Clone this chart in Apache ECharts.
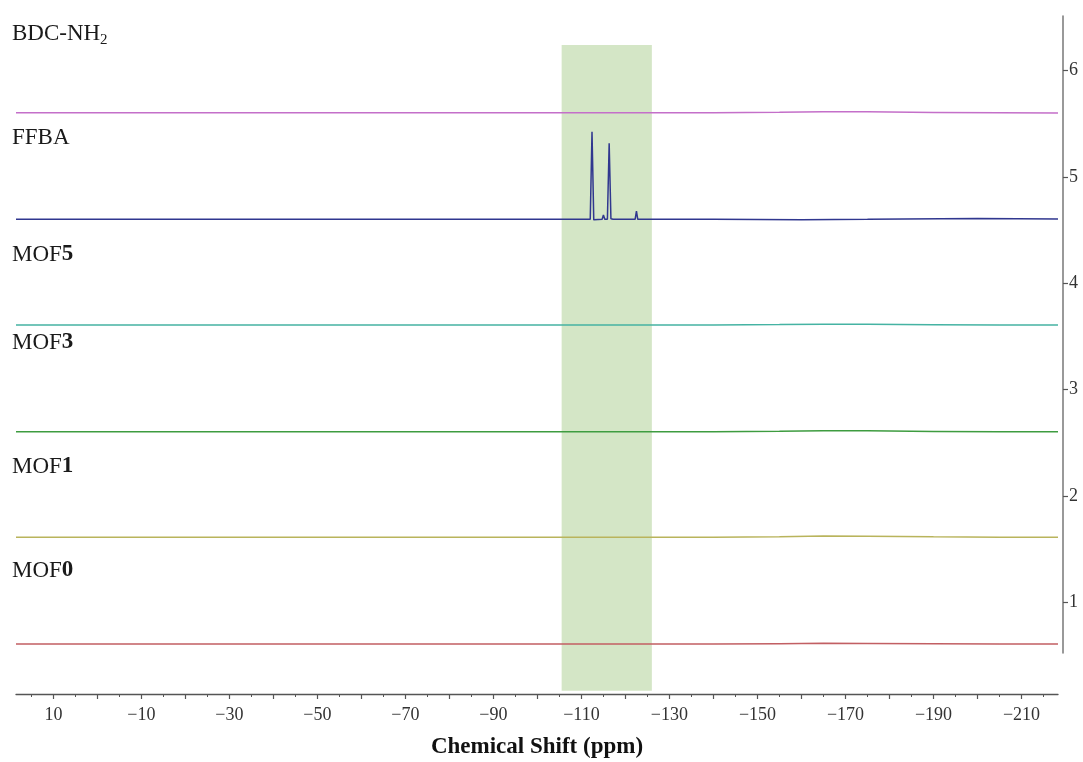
<!DOCTYPE html>
<html>
<head>
<meta charset="utf-8">
<script src="https://cdn.jsdelivr.net/npm/echarts@6/dist/echarts.min.js"></script>
<style>
  html, body { margin: 0; padding: 0; background: #fff; }
  #main { width: 1083px; height: 762px; }
</style>
</head>
<body>
<div id="main"></div>
<script>
// 基于准备好的dom，初始化echarts实例
var myChart = echarts.init(document.getElementById('main'));

// 化学位移 (ppm) —— 平坦基线共用的采样点
var baseShift = [18.5, 0, -50, -100, -140, -155, -165, -175, -190, -205, -218.3];

// 各谱线的堆叠偏移
var names = ['MOF0', 'MOF1', 'MOF3', 'MOF5', 'FFBA', 'BDC-NH2'];
var offsets = [0.612, 1.615, 2.607, 3.61, 4.603, 5.605];
var colors = ['#c25f63', '#b9b45c', '#3e9c40', '#45b3a3', '#30378f', '#c46fc9'];

// 相对强度
var mof0 = [0, 0, 0, 0, 0, 0.003, 0.006, 0.005, 0.003, 0.001, 0];
var mof1 = [0, 0, 0, 0, 0, 0.005, 0.012, 0.01, 0.004, 0.001, 0];
var mof3 = [0, 0, 0, 0, 0, 0.004, 0.01, 0.008, 0.003, 0, 0];
var mof5 = [0, 0, 0, 0, 0, 0.004, 0.008, 0.006, 0.003, 0.001, 0];
var bdc = [0, 0, 0, 0, 0, 0.004, 0.01, 0.008, 0.003, 0, -0.003];

// FFBA 有峰
var ffbaShift = [18.5, -50, -100, -112.0, -112.4, -112.8, -114.7, -115.0, -115.3, -115.9, -116.3, -116.7,
  -117.2, -121.3, -121.5, -121.7, -122.2, -122.5, -122.8, -140, -160, -175, -200, -218.3];
var ffba = [0, 0, 0, 0, 0.824, -0.005, 0, 0.041, 0, 0, 0.715, 0.005,
  0, 0, 0.006, 0, 0, 0.078, 0, 0, -0.003, 0, 0.008, 0.003];

// 阴影区间
var bandShift = [-105.5, -126.0];
var bandValue = [0.173, 6.242];

// 坐标轴刻度
var xLabels = [10, -10, -30, -50, -70, -90, -110, -130, -150, -170, -190, -210];
var xMajorTicks = [10, 0, -10, -20, -30, -40, -50, -60, -70, -80, -90, -100, -110, -120, -130, -140,
  -150, -160, -170, -180, -190, -200, -210];
var xMinorTicks = [15, 5, -5, -15, -25, -35, -45, -55, -65, -75, -85, -95, -105, -115, -125, -135,
  -145, -155, -165, -175, -185, -195, -205, -215];
var yLabels = [1, 2, 3, 4, 5, 6];

var serif = "'Liberation Serif', 'Times New Roman', serif";

function pairs(xs, ys, off) {
  return xs.map(function (x, i) { return [x, ys[i] + off]; });
}

var spectra = [mof0, mof1, mof3, mof5, null, bdc];

var series = [{
  // 阴影
  type: 'line',
  data: [],
  silent: true,
  z: 1,
  markArea: {
    silent: true,
    itemStyle: { color: '#d4e6c6' },
    data: [[{ xAxis: bandShift[0], yAxis: bandValue[0] }, { xAxis: bandShift[1], yAxis: bandValue[1] }]]
  }
}];

names.forEach(function (n, i) {
  var d = n === 'FFBA' ? pairs(ffbaShift, ffba, offsets[i]) : pairs(baseShift, spectra[i], offsets[i]);
  series.push({
    name: n,
    type: 'line',
    data: d,
    showSymbol: false,
    symbol: 'none',
    z: 3,
    lineStyle: { color: colors[i], width: 1.5 },
    silent: true
  });
});

function lbl(text, top, num) {
  var rich = {
    a: { font: '23px ' + serif, fill: '#1a1a1a' },
    b: { font: 'bold 23px ' + serif, fill: '#1a1a1a' }
  };
  return {
    type: 'text',
    left: 12,
    top: top,
    style: {
      text: num === undefined ? '{a|' + text + '}' : '{a|' + text + '}{b|' + num + '}',
      rich: rich
    }
  };
}

option = {
  backgroundColor: '#fff',
  animation: false,
  grid: [
    { left: 16, right: 25, top: 16, bottom: 68, containLabel: false, outerBoundsMode: 'none' },
    { left: 16, right: 20, top: 16, bottom: 109, containLabel: false, outerBoundsMode: 'none' }
  ],
  xAxis: [{
    type: 'value',
    gridIndex: 0,
    min: -218.3,
    max: 18.5,
    inverse: true,
    position: 'bottom',
    splitLine: { show: false },
    axisLine: { onZero: false, lineStyle: { color: '#555', width: 1.3 } },
    axisTick: { customValues: xMajorTicks, length: 5, lineStyle: { color: '#555', width: 1.2 } },
    axisLabel: {
      customValues: xLabels,
      margin: 12,
      fontFamily: serif,
      fontSize: 18,
      color: '#333',
      formatter: function (v) { return v < 0 ? '\u2212' + Math.abs(v) : String(v); }
    },
    name: 'Chemical Shift (ppm)',
    nameLocation: 'middle',
    nameGap: 42,
    nameTextStyle: { fontFamily: serif, fontSize: 23, fontWeight: 'bold', color: '#111' }
  }, {
    type: 'value',
    gridIndex: 0,
    min: -218.3,
    max: 18.5,
    inverse: true,
    position: 'bottom',
    offset: 0,
    splitLine: { show: false },
    axisLine: { show: false, onZero: false },
    axisTick: { customValues: xMinorTicks, length: 3, lineStyle: { color: '#555', width: 1 } },
    axisLabel: { show: false }
  }, {
    type: 'value',
    gridIndex: 1,
    min: 0,
    max: 1,
    show: false
  }],
  yAxis: [{
    type: 'value',
    gridIndex: 0,
    min: 0.142,
    max: 6.514,
    show: false
  }, {
    type: 'value',
    gridIndex: 1,
    position: 'right',
    min: 0.524,
    max: 6.514,
    splitLine: { show: false },
    axisLine: { show: true, onZero: false, lineStyle: { color: '#777', width: 1.5 } },
    axisTick: { show: true, customValues: yLabels, length: 5, lineStyle: { color: '#555', width: 1.2 } },
    axisLabel: {
      customValues: yLabels,
      margin: 6,
      fontFamily: serif,
      fontSize: 18,
      color: '#333'
    }
  }],
  graphic: [
    lbl('BDC-NH', 22),
    {
      type: 'text',
      left: 100,
      top: 33,
      style: { text: '2', font: '15px ' + serif, fill: '#1a1a1a' }
    },
    lbl('FFBA', 126),
    lbl('MOF', 243, '5'),
    lbl('MOF', 331, '3'),
    lbl('MOF', 455, '1'),
    lbl('MOF', 559, '0')
  ],
  series: series
};

// 使用刚指定的配置项和数据显示图表。
myChart.setOption(option);
</script>
</body>
</html>
